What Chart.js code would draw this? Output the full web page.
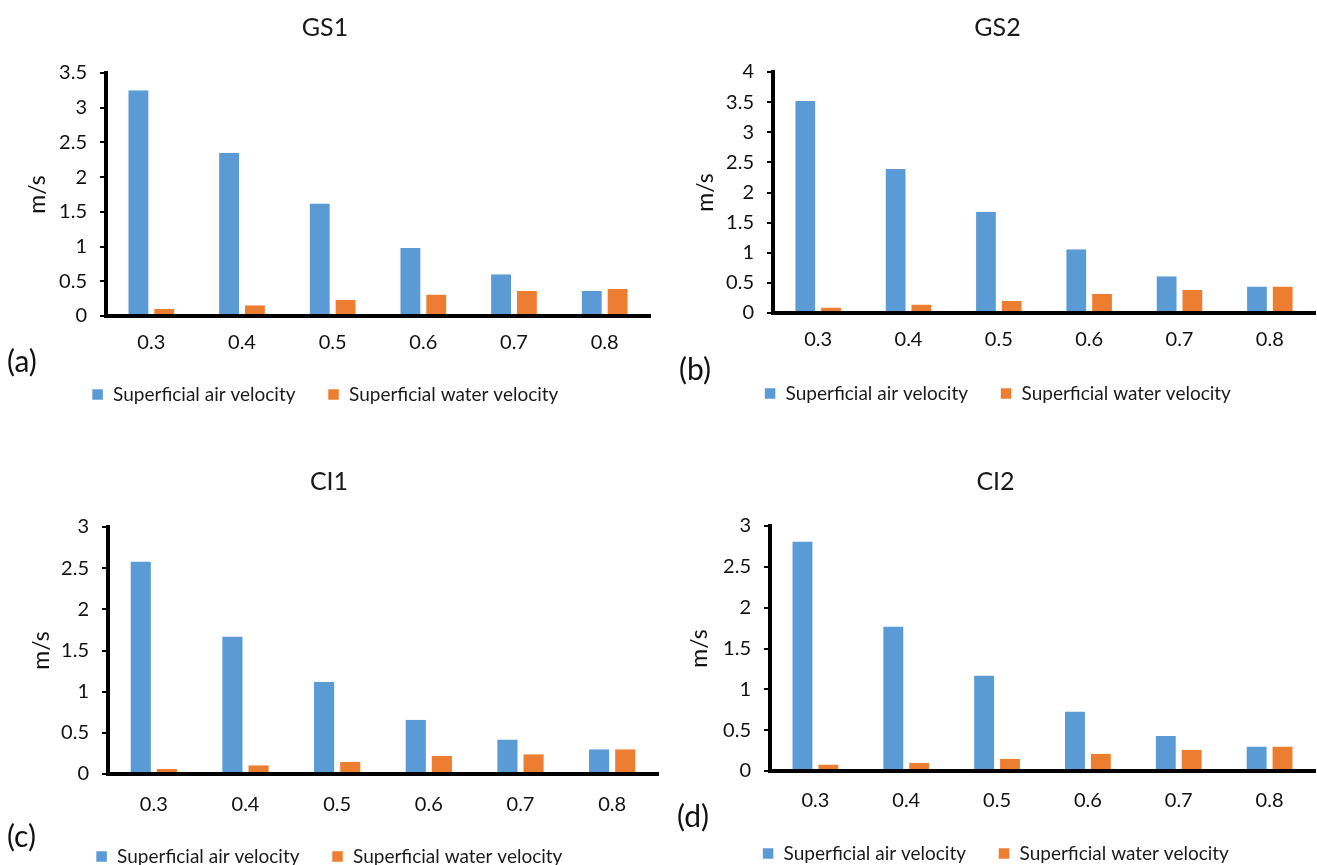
<!DOCTYPE html>
<html>
<head>
<meta charset="utf-8">
<script src="https://cdn.jsdelivr.net/npm/chart.js@4.4.1/dist/chart.umd.min.js"></script>
<style>
  body { margin: 0; background: #fff; width: 1317px; height: 865px; overflow: hidden; position: relative; font-family: Lato, sans-serif; }
  .panel { position: absolute; }
  .tag { position: absolute; font: 30px Lato, sans-serif; color: #111; }
</style>
</head>
<body>
<div class="panel" style="left:0;top:0;width:660px;height:420px"><canvas id="chartA"></canvas></div>
<div class="panel" style="left:660px;top:0;width:657px;height:420px"><canvas id="chartB"></canvas></div>
<div class="panel" style="left:0;top:445px;width:660px;height:440px"><canvas id="chartC"></canvas></div>
<div class="panel" style="left:660px;top:445px;width:657px;height:440px"><canvas id="chartD"></canvas></div>

<div class="tag" style="left:7px;top:342px">(a)</div>
<div class="tag" style="left:679px;top:350px">(b)</div>
<div class="tag" style="left:7px;top:817px">(c)</div>
<div class="tag" style="left:677px;top:797px">(d)</div>

<script>
// data
var categories = ['0.3', '0.4', '0.5', '0.6', '0.7', '0.8'];
var seriesNames = ['Superficial air velocity', 'Superficial water velocity'];

var gs1Air   = [3.25, 2.35, 1.62, 0.98, 0.60, 0.36];
var gs1Water = [0.10, 0.155, 0.23, 0.31, 0.36, 0.39];
var gs2Air   = [3.52, 2.39, 1.68, 1.06, 0.61, 0.44];
var gs2Water = [0.09, 0.14, 0.20, 0.32, 0.38, 0.44];
var ci1Air   = [2.58, 1.67, 1.12, 0.66, 0.42, 0.30];
var ci1Water = [0.06, 0.105, 0.15, 0.22, 0.24, 0.30];
var ci2Air   = [2.81, 1.77, 1.17, 0.73, 0.43, 0.30];
var ci2Water = [0.08, 0.10, 0.15, 0.21, 0.26, 0.30];

var ticksGS1 = [0, 0.5, 1, 1.5, 2, 2.5, 3, 3.5];
var ticksGS2 = [0, 0.5, 1, 1.5, 2, 2.5, 3, 3.5, 4];
var ticksCI  = [0, 0.5, 1, 1.5, 2, 2.5, 3];

var blue = '#5B9BD5';
var orange = '#ED7D31';
var font = 'Lato';

function makeChart(id, title, air, water, yTicks, g) {
  var ctx = document.getElementById(id).getContext('2d');
  return new Chart(ctx, {
    type: 'bar',
    data: {
      labels: categories,
      datasets: [
        { label: seriesNames[0], data: air, backgroundColor: blue, borderColor: '#fff',
          borderWidth: { left: 3, right: 3, top: 0, bottom: 0 } },
        { label: seriesNames[1], data: water, backgroundColor: orange, borderColor: '#fff',
          borderWidth: { left: 3, right: 3, top: 0, bottom: 0 } }
      ]
    },
    options: {
      responsive: true,
      maintainAspectRatio: false,
      animation: false,
      layout: { padding: { left: g.padL, right: g.padR, top: 0, bottom: g.padB } },
      datasets: { bar: { categoryPercentage: 0.57, barPercentage: 1 } },
      plugins: {
        title: { display: true, text: title, color: '#1a1a1a',
                 font: { family: font, size: 25, weight: 'normal' },
                 padding: { top: g.titleTop, bottom: g.titleBottom } },
        legend: { position: 'bottom',
                  labels: { boxWidth: 12, boxHeight: 12, padding: 32, color: '#1a1a1a',
                            font: { family: font, size: 19 } } },
        tooltip: { enabled: false }
      },
      scales: {
        x: {
          grid: { display: false, drawTicks: false },
          border: { color: '#000', width: 4, z: 1 },
          ticks: { color: '#111', padding: g.xPad, font: { family: font, size: 20 } },
          afterFit: function (s) { s.height = g.xH; }
        },
        y: {
          min: 0,
          max: yTicks[yTicks.length - 1],
          afterBuildTicks: function (s) { s.ticks = yTicks.map(function (v) { return { value: v }; }); },
          grid: { drawOnChartArea: false, drawTicks: true, tickLength: 6, color: '#000', lineWidth: 2 },
          border: { color: '#000', width: 4, z: 1 },
          ticks: { color: '#111', padding: 13, font: { family: font, size: 20 },
                   callback: function (v) { return String(v); } },
          title: { display: true, text: 'm/s', color: '#111', font: { family: font, size: 23 },
                   padding: { top: g.yTitle, bottom: 0 } },
          afterFit: function (s) { s.width = g.yW; }
        }
      }
    }
  });
}

makeChart('chartA', 'GS1', gs1Air, gs1Water, ticksGS1,
  { padL: 0, padR: 10, padB: 6, titleTop: 13, titleBottom: 30, xH: 37, xPad: 15, yW: 106, yTitle: 24 });
makeChart('chartB', 'GS2', gs2Air, gs2Water, ticksGS2,
  { padL: 20, padR: 2, padB: 7, titleTop: 13, titleBottom: 29, xH: 39, xPad: 15, yW: 93, yTitle: 12 });
makeChart('chartC', 'CI1', ci1Air, ci1Water, ticksCI,
  { padL: 0, padR: 2, padB: 9, titleTop: 22, titleBottom: 30, xH: 41, xPad: 19, yW: 108, yTitle: 28 });
makeChart('chartD', 'CI2', ci2Air, ci2Water, ticksCI,
  { padL: 16, padR: 2, padB: 12, titleTop: 22, titleBottom: 29, xH: 41, xPad: 18, yW: 94, yTitle: 10 });
</script>
</body>
</html>
